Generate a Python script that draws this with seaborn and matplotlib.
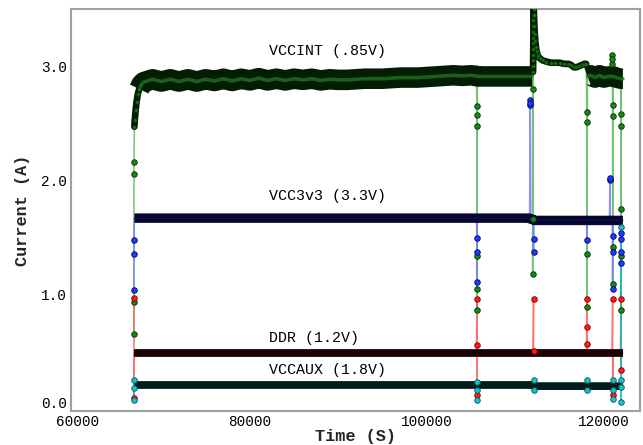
import matplotlib
matplotlib.use("Agg")
import matplotlib.pyplot as plt
import matplotlib.transforms as mtransforms
import pandas as pd
import seaborn as sns

# ---------------- data ----------------
# VCCINT main trace (ramp, band, spike + decay, second band)
int_t = [66950, 67000, 67100, 67200, 67350, 67500, 67750, 68000,
         69000, 70000, 71000, 72000, 73000, 74000, 75000, 76000, 77000, 78000, 79000, 80000,
         81000, 82000, 83000, 84000, 85000, 86000, 87000, 88000, 89000, 90000,
         91000, 92000, 93000, 94000, 95000, 96000, 97000, 98000, 99000, 100000,
         101000, 102000, 103000, 104000, 105000, 105600, 105700, 106000, 107000, 108000,
         109000, 110000, 111000, 111900,
         112000, 112005, 112010, 112015, 112020, 112025, 112030, 112035, 112040, 112045,
         112050, 112055, 112060,
         112100, 112150, 112200, 112250, 112320, 112400, 112500, 112600, 112750, 112900,
         113100, 113500, 114000, 114500, 115000, 115500, 116000, 116300, 116600, 116900,
         117200, 117500, 117800, 118000,
         118150, 118500, 119000, 119500, 120000, 120500, 120850, 120950, 121050, 121400,
         121880, 121970, 122150]
int_v = [2.47, 2.53, 2.62, 2.69, 2.76, 2.80, 2.84, 2.86,
         2.885, 2.865, 2.885, 2.865, 2.885, 2.865, 2.885, 2.87, 2.89, 2.87, 2.89, 2.875,
         2.895, 2.875, 2.89, 2.875, 2.89, 2.88, 2.89, 2.875, 2.885, 2.88,
         2.88, 2.885, 2.89, 2.89, 2.89, 2.895, 2.90, 2.90, 2.90, 2.905,
         2.91, 2.915, 2.92, 2.915, 2.92, 2.915, 2.91, 2.91, 2.91, 2.91,
         2.91, 2.91, 2.91, 2.91,
         2.95, 3.00, 3.05, 3.10, 3.15, 3.20, 3.25, 3.30, 3.35, 3.40,
         3.45, 3.50, 3.55,
         3.45, 3.35, 3.28, 3.22, 3.17, 3.13, 3.10, 3.08, 3.07, 3.06,
         3.05, 3.04, 3.03, 3.03, 3.03, 3.02, 3.02, 3.01, 2.99, 2.99,
         3.00, 3.01, 3.02, 3.02,
         2.91, 2.92, 2.90, 2.92, 2.90, 2.91, 2.91, 2.91, 2.91, 2.90,
         2.89, 2.89, 2.89]
int_drop_t = [66900, 66900, 66900, 66900,
              105650, 105650, 105650, 105650, 105650, 105650,
              111950, 111950, 111950,
              118080, 118080, 118080, 118080,
              120900, 120900, 120900,
              120985, 120985, 120985, 120985,
              121924, 121924, 121924, 121924, 121924]
int_drop_v = [0.66, 0.94, 2.06, 2.16,
              2.65, 2.57, 2.48, 1.34, 1.05, 0.87,
              2.80, 1.66, 1.18,
              2.60, 2.51, 1.36, 0.89,
              3.02, 3.10, 3.06,
              2.66, 2.56, 1.42, 1.09,
              2.58, 2.48, 1.75, 1.34, 0.87]

# VCC3v3
v33_t = [66950, 70000, 80000, 90000, 100000, 105600, 105700, 111600, 111750, 112000,
         112100, 118030, 118130, 120630, 120730, 120935, 121035, 121874, 121974, 122150]
v33_v = [1.67, 1.67, 1.67, 1.67, 1.67, 1.67, 1.67, 1.67, 1.66, 1.66,
         1.65, 1.65, 1.65, 1.65, 1.65, 1.65, 1.65, 1.65, 1.65, 1.65]
v33_drop_t = [66900, 66900, 66900,
              105650, 105650, 105650,
              111680, 111680, 111680,
              112050, 112050,
              118080,
              120680, 120680,
              120985, 120985, 120985,
              121924, 121924, 121924, 121924]
v33_drop_v = [1.04, 1.36, 1.48,
              1.50, 1.37, 1.11,
              2.66, 2.70, 2.68,
              1.49, 1.37,
              1.48,
              2.00, 2.02,
              1.51, 1.37, 1.05,
              1.54, 1.49, 1.37, 1.28]

# DDR
ddr_t = [66950, 80000, 100000, 105600, 105700, 112000, 112100, 118030, 118130,
         120935, 121035, 121874, 121974, 122150]
ddr_v = [0.49, 0.49, 0.49, 0.49, 0.49, 0.49, 0.49, 0.49, 0.49,
         0.49, 0.49, 0.49, 0.49, 0.49]
ddr_drop_t = [66900, 66900,
              105650, 105650, 105650,
              112050, 112050,
              118080, 118080, 118080,
              120985, 120985,
              121924, 121924]
ddr_drop_v = [0.97, 0.10,
              0.96, 0.56, 0.12,
              0.96, 0.51,
              0.96, 0.72, 0.57,
              0.96, 0.12,
              0.96, 0.34]

# VCCAUX
aux_t = [66950, 90000, 105600, 105700, 112000, 112100, 118030, 118130,
         120935, 121035, 121874, 121974, 122150]
aux_v = [0.21, 0.21, 0.21, 0.21, 0.21, 0.20, 0.20, 0.20,
         0.20, 0.20, 0.20, 0.20, 0.20]
aux_drop_t = [66900, 66900, 66900,
              105650, 105650, 105650,
              112050, 112050,
              118080, 118080,
              120985, 120985, 120985,
              121924, 121924, 121924, 121924]
aux_drop_v = [0.08, 0.18, 0.25,
              0.24, 0.17, 0.08,
              0.25, 0.17,
              0.25, 0.17,
              0.25, 0.17, 0.09,
              0.25, 0.19, 0.06, 1.59]

series_names = ["VCCINT (.85V)", "VCC3v3 (3.3V)", "DDR (1.2V)", "VCCAUX (1.8V)"]
label_t = [82160, 82160, 82160, 82160]
label_v = [3.13, 1.86, 0.62, 0.34]

# time ranges where each trace forms a wide band / a narrow trace
int_bands = [(67500, 111900), (118150, 122150)]
int_narrow = [(66950, 67600), (112000, 118000)]
full_band = [(66950, 122150)]

x_ticks = [60000, 80000, 100000, 120000]
y_ticks = [0.0, 1.0, 2.0, 3.0]


def make(t, v, dt, dv):
    a = pd.DataFrame({"time": t, "current": v, "kind": "main"})
    b = pd.DataFrame({"time": dt, "current": dv, "kind": "drop"})
    return pd.concat([a, b], ignore_index=True).sort_values("time", kind="stable")


data = [make(int_t, int_v, int_drop_t, int_drop_v),
        make(v33_t, v33_v, v33_drop_t, v33_drop_v),
        make(ddr_t, ddr_v, ddr_drop_t, ddr_drop_v),
        make(aux_t, aux_v, aux_drop_t, aux_drop_v)]
bands = [int_bands, full_band, full_band, full_band]

# ---------------- styling ----------------
thin_col = ["#5cb85c", "#7a7aff", "#ff5a5a", "#19b5c0"]
band_col = ["#031c03", "#05052e", "#1c0303", "#031c1c"]
stripe_col = ["#1f7a1f", "#15157a", "#3a0505", "#053a3a"]
face_col = ["#138a13", "#1f3bff", "#ff1a1a", "#19c0c8"]
edge_col = ["#0a2a0a", "#00006a", "#7a0000", "#005a5a"]
band_lw = [14.8, 6.8, 5.6, 5.6]
stripe_lw = [2.6, 1.0, 0.0, 0.0]
stripe_alpha = [0.75, 0.45, 0.0, 0.0]

sns.set_style("white")
plt.rcParams["font.family"] = ["Liberation Mono", "DejaVu Sans Mono"]

fig = plt.figure(figsize=(6.43, 4.45), dpi=100)
ax = fig.add_axes([71 / 643, 1 - 410.7 / 445, (640 - 71) / 643, (410.7 - 9) / 445])


def seg_of(d, a, b):
    main = d[d["kind"] == "main"]
    return main[(main["time"] >= a) & (main["time"] <= b)]


# thin connecting lines (drop-outs)
for i, d in enumerate(data):
    sns.lineplot(data=d, x="time", y="current", sort=False, estimator=None,
                 color=thin_col[i], linewidth=1.1, alpha=0.85, ax=ax,
                 legend=False, zorder=2)

# dense bands
for i, d in enumerate(data):
    for (a, b) in bands[i]:
        seg = seg_of(d, a, b)
        sns.lineplot(data=seg, x="time", y="current", sort=False, estimator=None,
                     color=band_col[i], linewidth=band_lw[i], ax=ax,
                     legend=False, zorder=3, solid_capstyle="butt",
                     solid_joinstyle="round")
        if stripe_lw[i] > 0:
            sns.lineplot(data=seg, x="time", y="current", sort=False, estimator=None,
                         color=stripe_col[i], linewidth=stripe_lw[i],
                         alpha=stripe_alpha[i], ax=ax, legend=False, zorder=3.5)

# narrow dense parts of VCCINT (ramp, spike, decay)
for (a, b) in int_narrow:
    seg = seg_of(data[0], a, b)
    sns.lineplot(data=seg, x="time", y="current", sort=False, estimator=None,
                 color=band_col[0], linewidth=4.8, ax=ax, legend=False, zorder=3,
                 solid_joinstyle="round", solid_capstyle="round")
    sns.scatterplot(data=seg, x="time", y="current", color=face_col[0],
                    edgecolor=edge_col[0], linewidth=0.5, s=7, alpha=0.8, ax=ax,
                    legend=False, zorder=4)

# isolated drop-out points
for i, d in enumerate(data):
    drops = d[d["kind"] == "drop"]
    sns.scatterplot(data=drops, x="time", y="current", color=face_col[i],
                    edgecolor=edge_col[i], linewidth=0.6, s=16, ax=ax,
                    legend=False, zorder=5)

for name, lt, lv in zip(series_names, label_t, label_v):
    ax.text(lt, lv, name, fontsize=10.8, ha="left", va="center", color="black",
            zorder=6)

ax.set_xlim(59790, 124080)
ax.set_ylim(-0.015, 3.5)
ax.set_xticks(x_ticks)
ax.set_xticklabels([str(x) for x in x_ticks])
ax.set_yticks(y_ticks)
ax.set_yticklabels([f"{y:.1f}" for y in y_ticks])
ax.tick_params(direction="in", length=7, width=3.5, color="black", pad=3,
               labelsize=10.4, labelcolor="black")
ax.xaxis.get_major_ticks()[0].tick1line.set_visible(False)
ax.yaxis.get_major_ticks()[0].tick1line.set_visible(False)

ax.set_xlabel("Time (S)", fontsize=12.2, fontweight="bold", labelpad=0)
ax.set_ylabel("Current (A)", fontsize=12.2, fontweight="bold", labelpad=8)

for s in ax.spines.values():
    s.set_color("#a0a0a0")
    s.set_linewidth(1.5)

# small label nudges seen in the reference
lbl0 = ax.get_yticklabels()[0]
lbl0.set_transform(lbl0.get_transform() +
                   mtransforms.ScaledTranslation(0, 6 / 100, fig.dpi_scale_trans))
lblx0 = ax.get_xticklabels()[0]
lblx0.set_transform(lblx0.get_transform() +
                    mtransforms.ScaledTranslation(4.5 / 100, 0, fig.dpi_scale_trans))

fig.savefig("out.png", dpi=100, facecolor="white")
